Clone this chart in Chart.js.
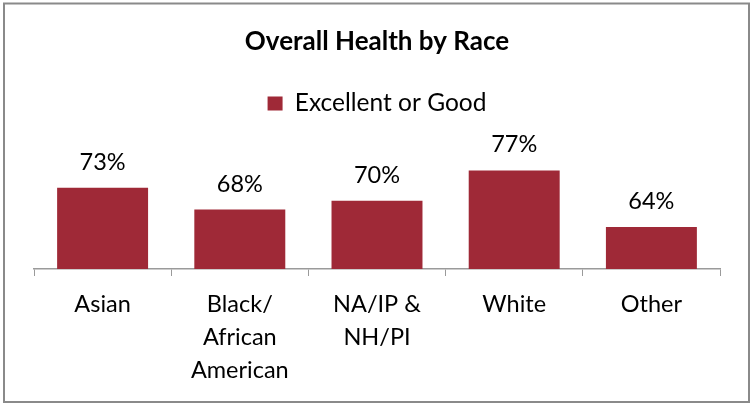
<!DOCTYPE html>
<html>
<head>
<meta charset="utf-8">
<script src="https://cdn.jsdelivr.net/npm/chart.js@4.4.1/dist/chart.umd.min.js"></script>
<style>
  html, body { margin: 0; padding: 0; background: #ffffff; }
  #wrap { width: 752px; height: 404px; position: relative; }
</style>
</head>
<body>
<div id="wrap"><canvas id="c" width="752" height="404"></canvas></div>
<script>
const categories = ['Asian', ['Black/', 'African', 'American'], ['NA/IP &', 'NH/PI'], 'White', 'Other'];
const seriesName = 'Excellent or Good';
const values = [73, 68, 70, 77, 64];
const chartTitle = 'Overall Health by Race';

const barColor = '#9F2937';
const fontFamily = 'Lato, "Open Sans", sans-serif';

const frame = {
  id: 'frame',
  beforeDraw(chart) {
    const c = chart.ctx;
    c.save();
    c.fillStyle = '#ffffff';
    c.fillRect(0, 0, chart.width, chart.height);
    c.restore();
  },
  afterDraw(chart) {
    const c = chart.ctx;
    c.save();
    c.strokeStyle = '#8a8a8a';
    c.lineWidth = 2;
    c.strokeRect(4, 3.5, 745, 398.5);
    c.restore();
  }
};

const barLabels = {
  id: 'barLabels',
  afterDatasetsDraw(chart) {
    const c = chart.ctx;
    const meta = chart.getDatasetMeta(0);
    c.save();
    c.font = '23.5px ' + fontFamily;
    c.fillStyle = '#000000';
    c.textAlign = 'center';
    c.textBaseline = 'alphabetic';
    meta.data.forEach((bar, i) => {
      c.fillText(values[i] + '%', bar.x, bar.y - 18);
    });
    c.restore();
  }
};

new Chart(document.getElementById('c'), {
  type: 'bar',
  data: {
    labels: categories,
    datasets: [{
      label: seriesName,
      data: values,
      backgroundColor: barColor,
      borderWidth: 0,
      categoryPercentage: 1,
      barPercentage: 0.663
    }]
  },
  options: {
    responsive: false,
    animation: false,
    devicePixelRatio: 1,
    layout: { padding: { left: 34, right: 32, top: 0, bottom: 5 } },
    plugins: {
      title: {
        display: true,
        text: chartTitle,
        color: '#000000',
        font: { family: fontFamily, size: 26, weight: 'bold' },
        padding: { top: 26, bottom: 24 }
      },
      legend: {
        display: true,
        position: 'top',
        labels: {
          color: '#000000',
          font: { family: fontFamily, size: 24.5 },
          boxWidth: 15,
          boxHeight: 14,
          padding: 10
        }
      },
      tooltip: { enabled: false }
    },
    scales: {
      x: {
        grid: {
          display: true,
          drawOnChartArea: false,
          drawTicks: true,
          tickLength: 7,
          color: '#9a9a9a',
          offset: true
        },
        border: { display: true, color: '#9a9a9a', width: 1.5 },
        ticks: {
          color: '#000000',
          font: { family: fontFamily, size: 23.5, lineHeight: '33px' },
          padding: 12,
          maxRotation: 0,
          autoSkip: false
        }
      },
      y: {
        display: false,
        min: 54.3,
        max: 87.3
      }
    }
  },
  plugins: [frame, barLabels]
});
</script>
</body>
</html>
